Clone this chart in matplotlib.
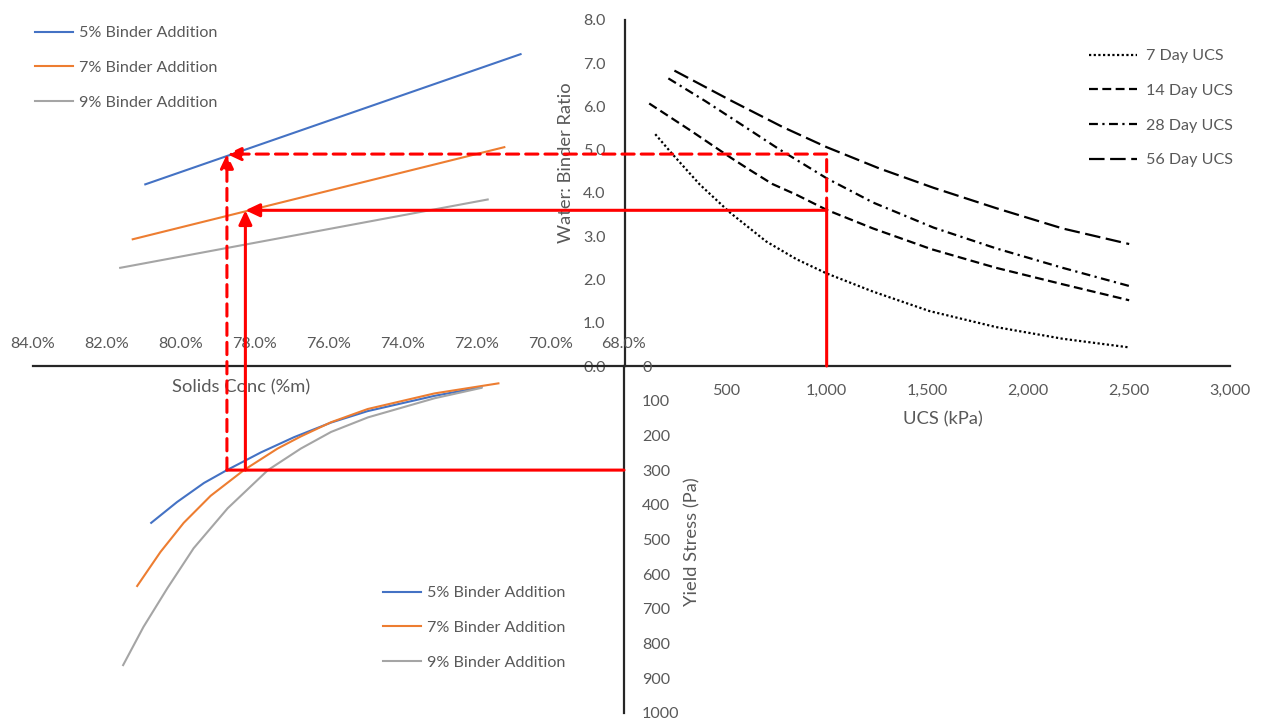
import matplotlib
matplotlib.use('Agg')
from matplotlib import pyplot as plt
from matplotlib.patches import ConnectionPatch

plt.rcParams['font.family'] = ['Lato', 'DejaVu Sans']

GREY_TXT = '#595959'
AXIS_COL = '#262626'
C5, C7, C9 = '#4472C4', '#ED7D31', '#A5A5A5'
FS = 11.6
FS_TITLE = 13.2

# UCS (kPa) vs water:binder ratio for each curing age
ucs_7d = [150, 235, 370, 520, 700, 850, 1000, 1230, 1510, 1840, 2170, 2500]
wb_7d = [5.36, 4.90, 4.20, 3.55, 2.88, 2.47, 2.14, 1.72, 1.27, 0.90, 0.63, 0.43]
ucs_14d = [120, 320, 520, 620, 730, 850, 1000, 1230, 1520, 1840, 2170, 2500]
wb_14d = [6.07, 5.46, 4.83, 4.53, 4.21, 3.96, 3.61, 3.18, 2.70, 2.27, 1.89, 1.52]
ucs_28d = [215, 400, 565, 765, 1000, 1230, 1530, 1840, 2170, 2500]
wb_28d = [6.65, 6.12, 5.62, 5.01, 4.34, 3.78, 3.20, 2.72, 2.27, 1.85]
ucs_56d = [245, 520, 780, 1000, 1260, 1530, 1840, 2170, 2500]
wb_56d = [6.83, 6.15, 5.53, 5.06, 4.57, 4.12, 3.65, 3.18, 2.82]

# solids concentration (%m) vs water:binder ratio per binder addition
conc_wb_b5 = [80.96, 70.80]
wb_b5 = [4.20, 7.21]
conc_wb_b7 = [81.30, 71.24]
wb_b7 = [2.93, 5.06]
conc_wb_b9 = [81.64, 71.69]
wb_b9 = [2.27, 3.85]

# solids concentration (%m) vs yield stress (Pa) per binder addition
conc_ys_b5 = [80.80, 80.10, 79.37, 78.75, 77.83, 76.93, 75.93, 74.94, 73.13, 71.86]
ys_b5 = [452, 392, 337, 300, 249, 205, 163, 130, 86, 61]
conc_ys_b7 = [81.18, 80.55, 79.92, 79.19, 78.29, 77.38, 76.75, 75.93, 74.94, 73.13, 71.40]
ys_b7 = [634, 536, 452, 374, 300, 238, 203, 162, 124, 79, 50]
conc_ys_b9 = [81.56, 81.01, 80.36, 79.65, 78.73, 77.64, 76.75, 75.93, 74.93, 73.13, 71.86]
ys_b9 = [862, 752, 640, 525, 410, 300, 238, 190, 148, 93, 63]

binder_labels = ['5% Binder Addition', '7% Binder Addition', '9% Binder Addition']
age_labels = ['7 Day UCS', '14 Day UCS', '28 Day UCS', '56 Day UCS']

# worked example read through the nomogram
ex_ucs = 1000
ex_wb = [4.9, 3.6]
ex_conc = [78.75, 78.25]
ex_ys = 300

fig = plt.figure(figsize=(12.61, 7.20), dpi=100)


def box(l, t, r, b):
    # pixel box -> figure fraction rect
    return [l / 1261, 1 - b / 720, (r - l) / 1261, (b - t) / 720]


def px(x, y):
    return x / 1261, 1 - y / 720


ax_ucs = fig.add_axes(box(625, 20, 1230, 366))
ax_sol = fig.add_axes(box(33, 20, 624, 366))
ax_ys = fig.add_axes(box(33, 366, 624, 713))
for ax in (ax_ucs, ax_sol, ax_ys):
    ax.patch.set_visible(False)
    for s in ax.spines.values():
        s.set_visible(False)
        s.set_color(AXIS_COL)
        s.set_linewidth(1.6)
    ax.tick_params(length=0, colors=GREY_TXT, labelsize=FS)

leg_kw = dict(bbox_transform=fig.transFigure, loc='upper left', frameon=False,
              fontsize=FS, labelcolor=GREY_TXT, labelspacing=1.27,
              borderpad=0, borderaxespad=0)

# top right: UCS
ax_ucs.set_xlim(0, 3000)
ax_ucs.set_ylim(0, 8)
ax_ucs.spines['left'].set_visible(True)
ax_ucs.spines['bottom'].set_visible(True)
ax_ucs.set_xticks(range(0, 3001, 500))
ax_ucs.set_xticklabels([''] + ['{:,}'.format(v) for v in range(500, 3001, 500)])
ax_ucs.set_yticks(range(0, 9))
ax_ucs.set_yticklabels(['%.1f' % v for v in range(0, 9)])
ax_ucs.tick_params(axis='x', pad=13)
ax_ucs.tick_params(axis='y', pad=14)

kw = dict(color='black', lw=1.6)
ax_ucs.plot(ucs_7d, wb_7d, ls=(0, (1, 1.1)), label=age_labels[0], **kw)
ax_ucs.plot(ucs_14d, wb_14d, ls=(0, (4, 2)), label=age_labels[1], **kw)
ax_ucs.plot(ucs_28d, wb_28d, ls=(0, (4, 2, 1, 2)), label=age_labels[2], **kw)
ax_ucs.plot(ucs_56d, wb_56d, ls=(0, (7, 2.5)), label=age_labels[3], **kw)
ax_ucs.legend(bbox_to_anchor=px(1089, 49), handlelength=3.0, handletextpad=0.55, **leg_kw)

# top left: solids conc vs W:B
ax_sol.set_xlim(84, 68)
ax_sol.set_ylim(0, 8)
ax_sol.set_xticks([])
ax_sol.set_yticks([])
ax_sol.plot(conc_wb_b5, wb_b5, color=C5, lw=1.5, label=binder_labels[0])
ax_sol.plot(conc_wb_b7, wb_b7, color=C7, lw=1.5, label=binder_labels[1])
ax_sol.plot(conc_wb_b9, wb_b9, color=C9, lw=1.5, label=binder_labels[2])
ax_sol.legend(bbox_to_anchor=px(35, 26), handlelength=2.35, handletextpad=0.38, **leg_kw)

# bottom left: solids conc vs yield stress
ax_ys.set_xlim(84, 68)
ax_ys.set_ylim(1000, 0)
ax_ys.spines['top'].set_visible(True)
ax_ys.spines['right'].set_visible(True)
ax_ys.xaxis.tick_top()
ax_ys.yaxis.tick_right()
ax_ys.set_xticks(range(84, 67, -2))
ax_ys.set_xticklabels(['%.1f%%' % v for v in range(84, 67, -2)])
ax_ys.set_yticks(range(0, 1001, 100))
ax_ys.tick_params(axis='x', pad=11)
ax_ys.tick_params(axis='y', pad=13)
ax_ys.plot(conc_ys_b5, ys_b5, color=C5, lw=1.5, label=binder_labels[0])
ax_ys.plot(conc_ys_b7, ys_b7, color=C7, lw=1.5, label=binder_labels[1])
ax_ys.plot(conc_ys_b9, ys_b9, color=C9, lw=1.5, label=binder_labels[2])
ax_ys.legend(bbox_to_anchor=px(383, 586), handlelength=2.35, handletextpad=0.38, **leg_kw)

# axis titles
txt_kw = dict(ha='center', va='center', color=GREY_TXT, fontsize=FS_TITLE)
fig.text(*px(943, 419), 'UCS (kPa)', **txt_kw)
fig.text(*px(566, 163), 'Water: Binder Ratio', rotation=90, **txt_kw)
fig.text(*px(692, 542), 'Yield Stress (Pa)', rotation=90, **txt_kw)
fig.text(*px(241, 387), 'Solids Conc (%m)', **txt_kw)


def red(xyA, axA, xyB, axB, dashed=False, arrow=False):
    style = '-|>,head_length=0.7,head_width=0.33' if arrow else '-'
    cp = ConnectionPatch(xyA=xyA, coordsA=axA.transData, xyB=xyB, coordsB=axB.transData,
                         arrowstyle=style, mutation_scale=12, shrinkA=0, shrinkB=0,
                         color='#FF0000', lw=2.2,
                         linestyle=(0, (4, 2.3)) if dashed else '-', zorder=10)
    fig.add_artist(cp)


wb_hi, wb_lo = ex_wb
c_hi, c_lo = ex_conc
red((ex_ucs, 0), ax_ucs, (ex_ucs, wb_lo), ax_ucs)
red((ex_ucs, wb_lo), ax_ucs, (c_lo, wb_lo), ax_sol, arrow=True)
red((68, ex_ys), ax_ys, (c_hi, ex_ys), ax_ys)
red((c_lo, ex_ys), ax_ys, (c_lo, wb_lo), ax_sol, arrow=True)
red((ex_ucs, wb_lo), ax_ucs, (ex_ucs, wb_hi), ax_ucs, dashed=True)
red((ex_ucs, wb_hi), ax_ucs, (c_hi, wb_hi), ax_sol, dashed=True, arrow=True)
red((c_hi, ex_ys), ax_ys, (c_hi, wb_hi), ax_sol, dashed=True, arrow=True)

fig.savefig('out.png', dpi=100)
